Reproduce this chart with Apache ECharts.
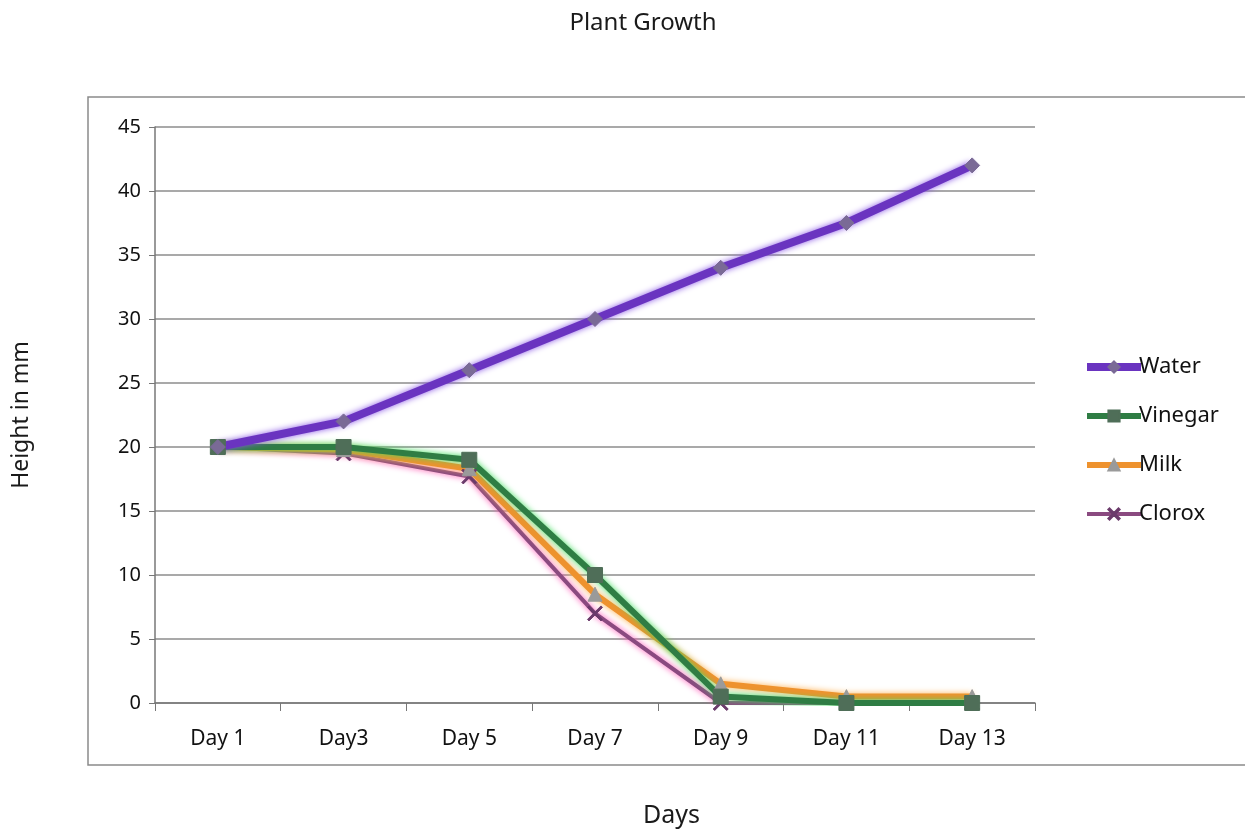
<!DOCTYPE html>
<html>
<head>
<meta charset="utf-8">
<script src="https://cdn.jsdelivr.net/npm/echarts@6/dist/echarts.min.js"></script>
<style>
  html, body { margin: 0; padding: 0; background: #fff; }
  #chart { width: 1245px; height: 835px; }
</style>
</head>
<body>
<div id="chart"></div>
<script>
// values
const days = ['Day 1', 'Day3', 'Day 5', 'Day 7', 'Day 9', 'Day 11', 'Day 13'];
const water = [20, 22, 26, 30, 34, 37.5, 42];
const vinegar = [20, 20, 19, 10, 0.5, 0, 0];
const milk = [20, 19.8, 18.3, 8.5, 1.5, 0.5, 0.5];
const clorox = [20, 19.5, 17.7, 7, 0, 0, 0];
const yTicks = { min: 0, max: 45, step: 5 };

const FONT = '"Noto Sans", "Open Sans", sans-serif';
// X marker for Clorox (filled outline of a cross)
const crossPath = 'path://M1,0L5,4L9,0L10,1L6,5L10,9L9,10L5,6L1,10L0,9L4,5L0,1Z';

function lineSeries(name, data, color, glow, width, symbol, symbolColor, symbolSize) {
    return {
        name: name,
        type: 'line',
        data: data,
        symbol: symbol,
        symbolSize: symbolSize,
        showSymbol: true,
        itemStyle: { color: symbolColor, borderColor: symbolColor, borderWidth: 1 },
        lineStyle: {
            color: color,
            width: width,
            shadowColor: glow,
            shadowBlur: 6
        },
        emphasis: { disabled: true },
        animation: false
    };
}

const chart = echarts.init(document.getElementById('chart'));

const option = {
    backgroundColor: '#fff',
    title: {
        text: 'Plant Growth',
        left: 638,
        top: 6,
        textAlign: 'center',
        textStyle: { fontFamily: FONT, fontSize: 24, fontWeight: 'normal', color: '#1a1a1a' }
    },
    graphic: [
        {
            type: 'rect',
            shape: { x: 88, y: 97, width: 1200, height: 668 },
            style: { fill: 'none', stroke: '#8a8a8a', lineWidth: 1.5 },
            z: -1
        },
        {
            type: 'text',
            left: 643,
            top: 803,
            style: { text: 'Days', font: '25px ' + FONT, fill: '#1a1a1a' }
        }
    ],
    legend: {
        orient: 'vertical',
        left: 1078,
        top: 351,
        itemGap: 27,
        itemWidth: 54,
        itemHeight: 14,
        textStyle: { fontFamily: FONT, fontSize: 22, color: '#111', padding: [0, 0, 0, -7] },
        data: [
            { name: 'Water', lineStyle: { width: 8 } },
            { name: 'Vinegar', lineStyle: { width: 6 } },
            { name: 'Milk', lineStyle: { width: 6 } },
            { name: 'Clorox', lineStyle: { width: 4 } }
        ]
    },
    grid: { left: 155, right: 210, top: 127, bottom: 132 },
    xAxis: {
        type: 'category',
        data: days,
        boundaryGap: true,
        axisLine: { lineStyle: { color: '#777', width: 1.5 } },
        axisTick: { show: true, length: 8, lineStyle: { color: '#777' } },
        axisLabel: { fontFamily: FONT, fontSize: 21, color: '#111', margin: 26 }
    },
    yAxis: {
        type: 'value',
        name: 'Height in mm',
        nameLocation: 'middle',
        nameGap: 122,
        nameTextStyle: { fontFamily: FONT, fontSize: 23, color: '#1a1a1a' },
        min: yTicks.min,
        max: yTicks.max,
        interval: yTicks.step,
        axisLine: { show: true, lineStyle: { color: '#777', width: 1.5 } },
        axisTick: { show: true, length: 6, lineStyle: { color: '#777' } },
        axisLabel: { fontFamily: FONT, fontSize: 20, color: '#111', margin: 14 },
        splitLine: { lineStyle: { color: '#8c8c8c', width: 1.5 } }
    },
    series: [
        lineSeries('Clorox', clorox, '#8a4a80', '#ff4fb4', 4, crossPath, '#6b3a6b', 15),
        lineSeries('Milk', milk, '#ee922e', '#ffb050', 6, 'triangle', '#9a9a9a', 14),
        lineSeries('Vinegar', vinegar, '#2f7d44', '#3fdc5c', 6, 'rect', '#4f6e58', 15),
        lineSeries('Water', water, '#6a34c0', '#8c5ae6', 8, 'diamond', '#7a6a96', 15)
    ]
};

chart.setOption(option);
</script>
</body>
</html>
